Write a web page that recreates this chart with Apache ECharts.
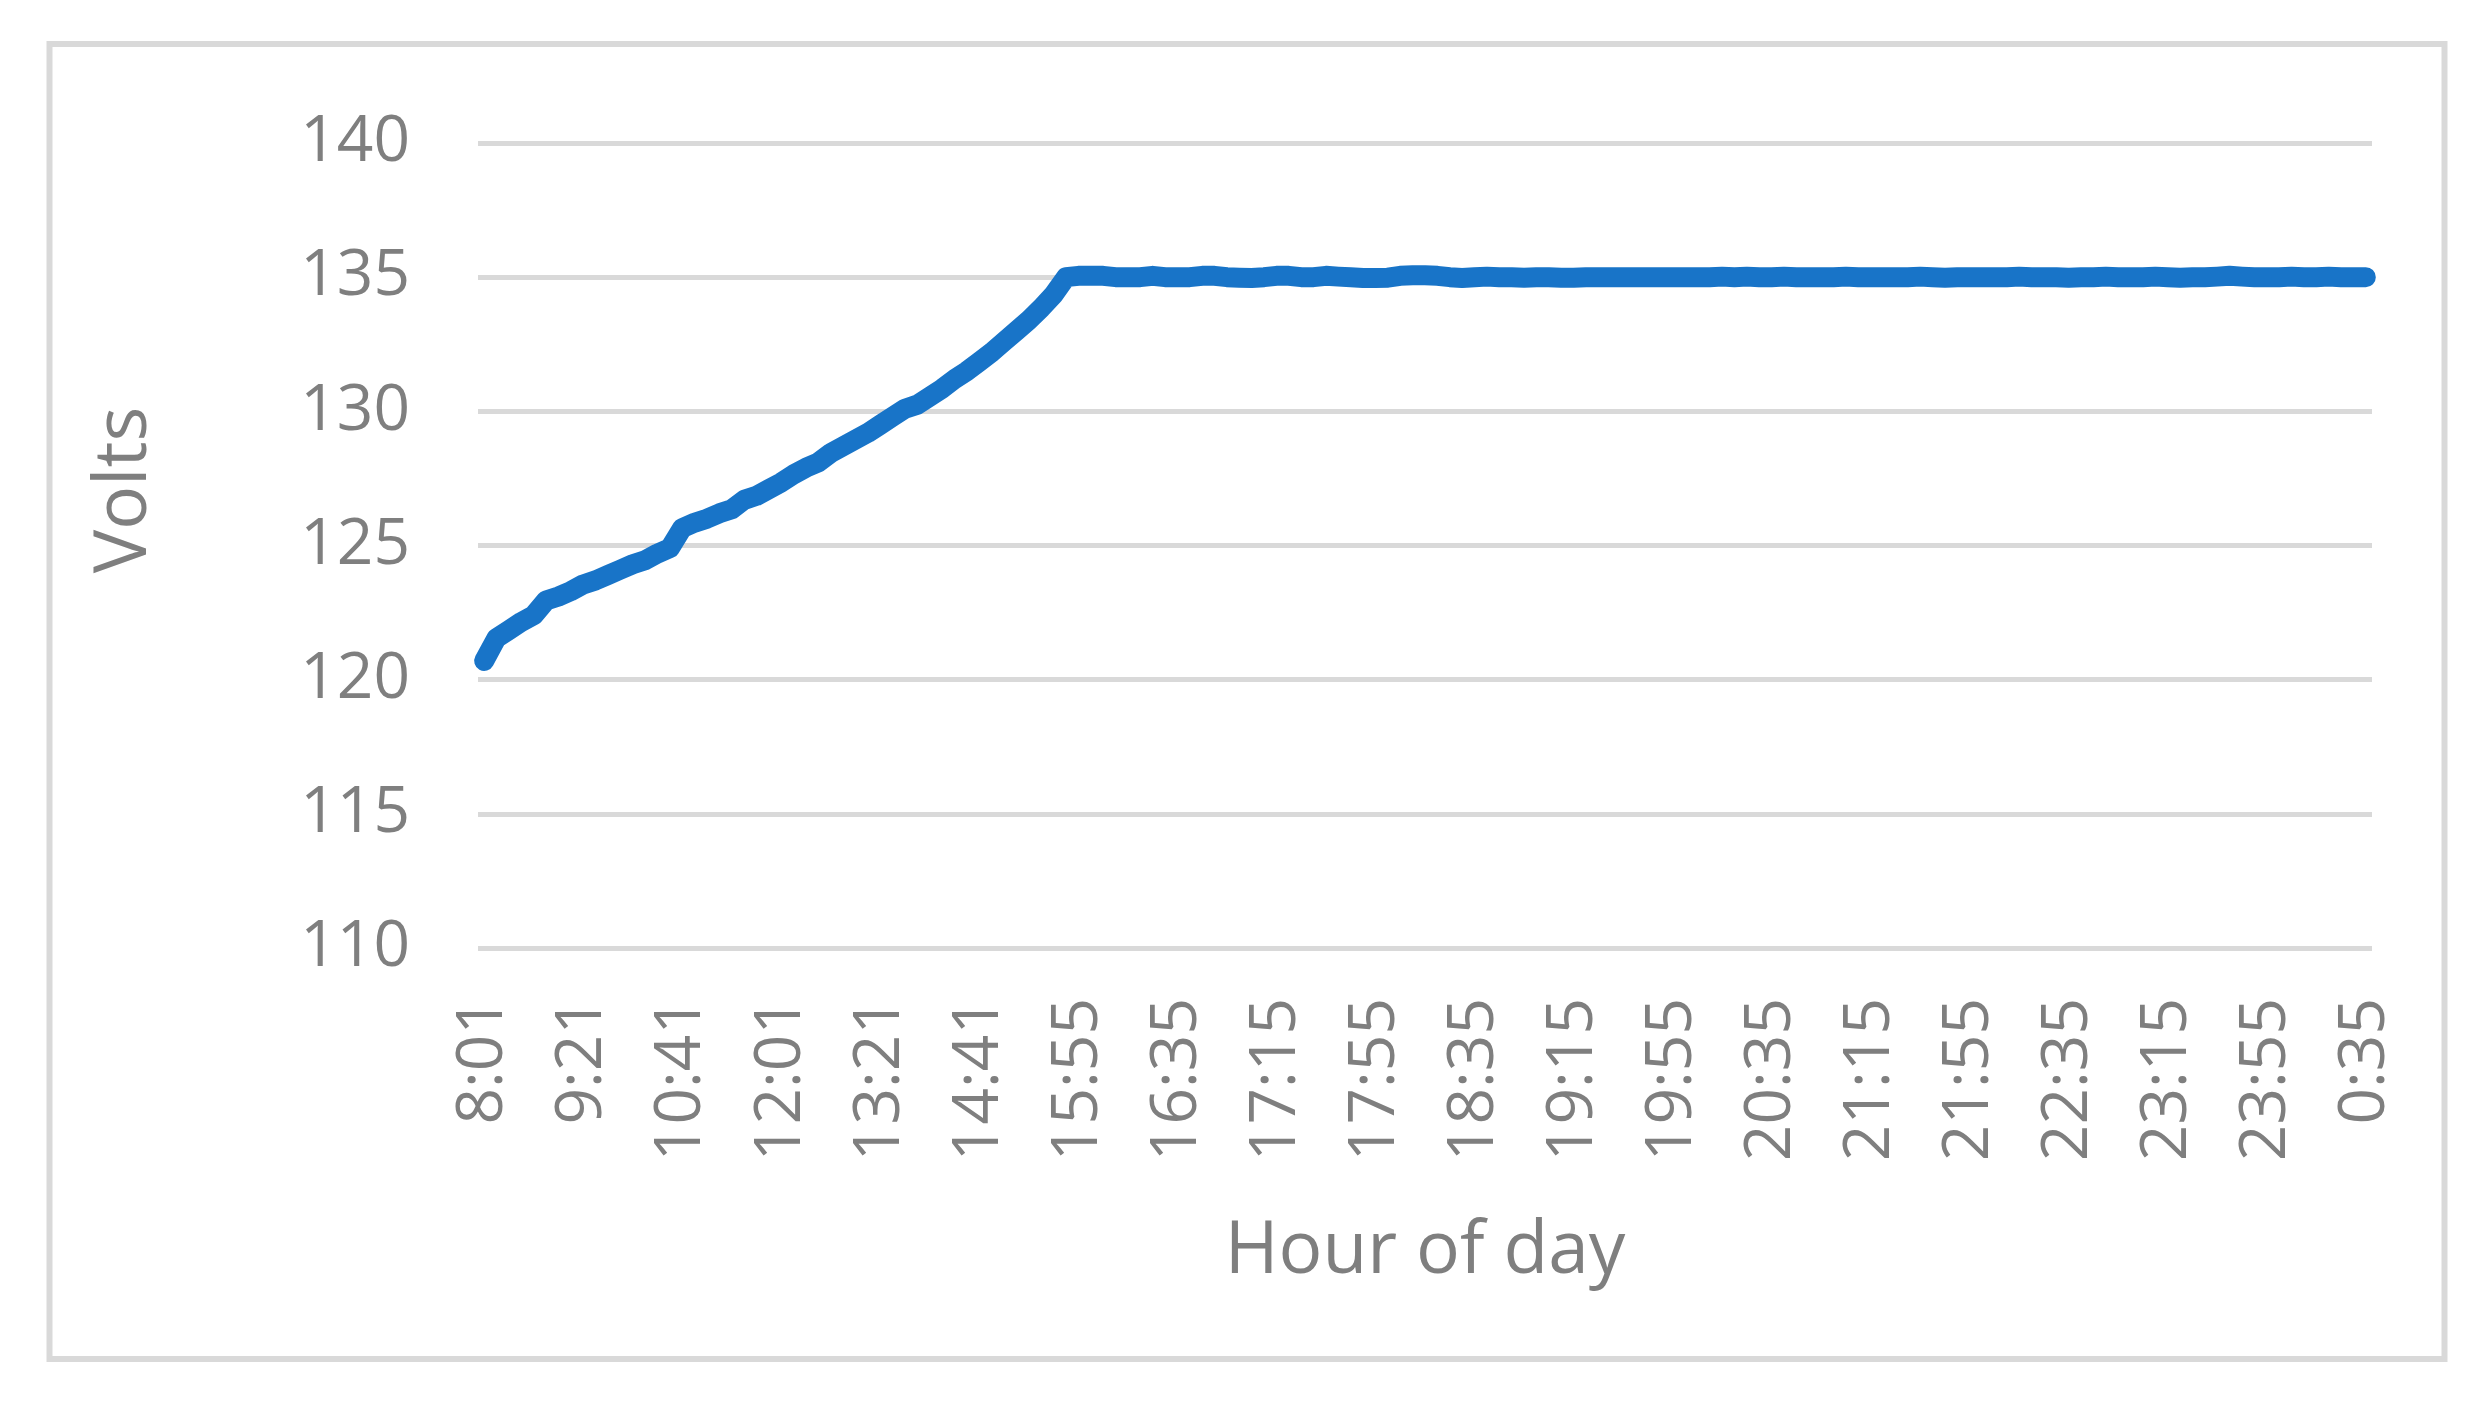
<!DOCTYPE html>
<html>
<head>
<meta charset="utf-8">
<script src="https://cdn.jsdelivr.net/npm/echarts@6/dist/echarts.min.js"></script>
<style>
  html, body { margin: 0; padding: 0; background: #fff; }
  #main { width: 2488px; height: 1402px; }
</style>
</head>
<body>
<div id="main"></div>
<script>
// readings every 10 min from 8:01, then 15:55, then every 5 min until 0:35
function hhmm(mins) {
    mins = mins % 1440;
    var h = Math.floor(mins / 60), m = mins % 60;
    return h + ':' + (m < 10 ? '0' + m : m);
}
var times = [];
for (var t = 8 * 60 + 1; t <= 15 * 60 + 51; t += 10) times.push(hhmm(t));
times.push('15:55');
for (var t = 16 * 60; t <= 24 * 60 + 35; t += 5) times.push(hhmm(t));

// charging ramp 8:01 .. 15:55
var rampVolts = [
    120.7, 121.55, 121.85, 122.15, 122.4, 122.95, 123.1, 123.3, 123.55, 123.7,
    123.9, 124.1, 124.3, 124.45, 124.7, 124.9, 125.65, 125.85, 126.0, 126.2,
    126.35, 126.7, 126.85, 127.1, 127.35, 127.65, 127.9, 128.1, 128.45, 128.7,
    128.95, 129.2, 129.5, 129.8, 130.1, 130.25, 130.55, 130.85, 131.2, 131.5,
    131.85, 132.2, 132.6, 133.0, 133.4, 133.85, 134.35, 135.0, 135.05
];
// plateau 16:00 .. 0:35
var plateauVolts = [
    135.05, 135.05, 135.0, 135.0, 135.0, 135.05, 135.0, 135.0, 135.0, 135.05, 135.05, 135.0,
    134.98, 134.97, 135.0, 135.05, 135.05, 135.0, 135.0, 135.05, 135.02, 135.0, 134.97, 134.97,
    134.98, 135.05, 135.07, 135.07, 135.05, 135.0, 134.97, 135.0, 135.02, 135.0, 135.0, 134.98,
    135.0, 135.0, 134.98, 134.98, 135.0, 135.0, 135.0, 135.0, 135.0, 135.0, 135.0, 135.0,
    135.0, 135.0, 135.0, 135.02, 135.0, 135.02, 135.0, 135.0, 135.02, 135.0, 135.0, 135.0,
    135.0, 135.02, 135.0, 135.0, 135.0, 135.0, 135.0, 135.02, 135.0, 134.98, 135.0, 135.0,
    135.0, 135.0, 135.0, 135.02, 135.0, 135.0, 135.0, 134.98, 135.0, 135.0, 135.02, 135.0,
    135.0, 135.0, 135.02, 135.0, 134.98, 135.0, 135.0, 135.02, 135.05, 135.02, 135.0, 135.0,
    135.0, 135.02, 135.0, 135.0, 135.02, 135.0, 135.0, 135.0
];
var volts = rampVolts.concat(plateauVolts);

var textGray = '#7f7f7f';
var lineGray = '#d9d9d9';
var font = '"Open Sans", "Liberation Sans", sans-serif';

var chart = echarts.init(document.getElementById('main'));

option = {
    animation: false,
    grid: { left: 478, right: 116, top: 143, bottom: 454, containLabel: false },
    graphic: [
        {
            type: 'rect',
            shape: { x: 49.5, y: 44, width: 2395, height: 1315 },
            style: { fill: null, stroke: lineGray, lineWidth: 6 }
        },
        {
            type: 'text',
            x: 125, y: 490,
            rotation: Math.PI / 2,
            style: {
                text: 'Volts', fill: textGray, font: '73px ' + font,
                textAlign: 'center', textVerticalAlign: 'middle'
            }
        }
    ],
    xAxis: {
        type: 'category',
        data: times,
        boundaryGap: true,
        name: 'Hour of day',
        nameLocation: 'middle',
        nameGap: 268,
        nameTextStyle: { color: textGray, fontSize: 73, fontFamily: font },
        axisLine: { show: false },
        axisTick: { show: false },
        axisLabel: {
            interval: 7, rotate: 90, margin: 50,
            color: textGray, fontSize: 64, fontFamily: font
        }
    },
    yAxis: {
        type: 'value',
        min: 110, max: 140, interval: 5,
        axisLine: { show: false },
        axisTick: { show: false },
        axisLabel: { margin: 68, color: textGray, fontSize: 64, fontFamily: font },
        splitLine: { lineStyle: { color: lineGray, width: 5 } }
    },
    series: [
        {
            name: 'Volts',
            type: 'line',
            data: volts,
            showSymbol: false,
            symbol: 'none',
            lineStyle: { color: '#1874C8', width: 20, cap: 'round', join: 'round' }
        }
    ]
};

chart.setOption(option);
</script>
</body>
</html>
